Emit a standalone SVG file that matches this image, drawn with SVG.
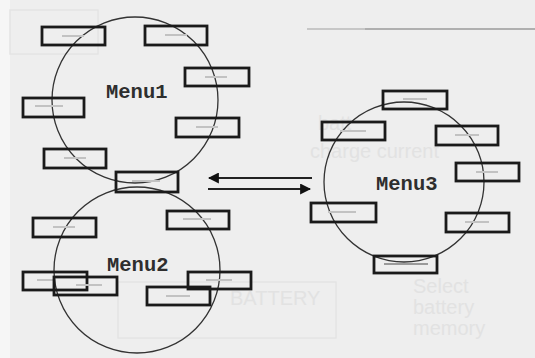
<svg xmlns="http://www.w3.org/2000/svg" width="535" height="358" viewBox="0 0 535 358">
<style>
.bg{fill:#eeeeee}
.ghost{fill:none;stroke:#e4e4e4;stroke-width:1.5}
.gtext{fill:#e2e2e2;font-family:"Liberation Sans",Arial,sans-serif;font-size:20px}
.circle{fill:none;stroke:#333333;stroke-width:1.3}
.box rect{fill:none;stroke:#1a1a1a;stroke-width:2.8}
.box .t{stroke:none;fill:#c2c2c2}
.label{font-family:"Liberation Mono","Courier New",monospace;font-weight:bold;font-size:20.5px;fill:#2e2e2e}
.conn line{stroke:#222222;stroke-width:2}
</style>
<defs>
<marker id="ah" viewBox="0 0 10 10" refX="9" refY="5" markerWidth="5.5" markerHeight="5.5" orient="auto" markerUnits="strokeWidth">
<path d="M0,0 L10,5 L0,10 z" fill="#111111"/>
</marker>
</defs>
<rect class="bg" x="0" y="0" width="535" height="358"/>
<rect x="0" y="0" width="10" height="358" fill="#f6f6f6"/>
<g id="ghost">
<rect class="ghost" x="10" y="10" width="88" height="44"/>
<rect class="ghost" x="118" y="282" width="218" height="56"/>
<line x1="307" y1="29" x2="535" y2="29" stroke="#9a9a9a" stroke-width="1.3"/>
<line x1="307" y1="29" x2="365" y2="29" stroke="#cfcfcf" stroke-width="1.3"/>
<text class="gtext" x="413" y="293">Select</text>
<text class="gtext" x="413" y="314">battery</text>
<text class="gtext" x="413" y="335">memory</text>
<text class="gtext" x="318" y="130" font-size="17">batt</text>
<text class="gtext" x="310" y="158" font-size="17">charge current</text>
<text class="gtext" x="230" y="305" font-size="16">BATTERY</text>
</g>
<g id="menu1">
<circle class="circle" cx="135" cy="100" r="83"/>
<text class="label" x="106" y="98">Menu1</text>
</g>
<g id="menu2">
<circle class="circle" cx="137" cy="270" r="83"/>
<text class="label" x="107" y="271">Menu2</text>
</g>
<g id="menu3">
<circle class="circle" cx="404" cy="182" r="80"/>
<text class="label" x="376" y="190">Menu3</text>
</g>
<g id="b1" class="box"><rect x="42" y="27" width="63" height="18"/><rect class="t" x="62" y="35" width="22" height="2"/></g>
<g id="b2" class="box"><rect x="145" y="26" width="62" height="19"/><rect class="t" x="165" y="34" width="22" height="2"/></g>
<g id="b3" class="box"><rect x="185" y="68" width="64" height="18"/><rect class="t" x="205" y="76" width="22" height="2"/></g>
<g id="b4" class="box"><rect x="23" y="98" width="61" height="19"/><rect class="t" x="35" y="105" width="28" height="2"/></g>
<g id="b5" class="box"><rect x="176" y="118" width="63" height="19"/><rect class="t" x="196" y="126" width="22" height="2"/></g>
<g id="b6" class="box"><rect x="44" y="149" width="62" height="19"/><rect class="t" x="64" y="157" width="22" height="2"/></g>
<g id="b7" class="box"><rect x="116" y="172" width="62" height="20"/><rect class="t" x="132" y="180" width="28" height="2"/></g>
<g id="b8" class="box"><rect x="33" y="218" width="63" height="19"/><rect class="t" x="53" y="226" width="22" height="2"/></g>
<g id="b9" class="box"><rect x="167" y="211" width="62" height="18"/><rect class="t" x="183" y="218" width="28" height="2"/></g>
<g id="b10" class="box"><rect x="23" y="272" width="64" height="18"/><rect class="t" x="37" y="279" width="16" height="2"/></g>
<g id="b11" class="box"><rect x="54" y="277" width="63" height="18"/><rect class="t" x="76" y="284" width="26" height="2"/></g>
<g id="b12" class="box"><rect x="188" y="272" width="63" height="17"/><rect class="t" x="206" y="279" width="26" height="2"/></g>
<g id="b13" class="box"><rect x="147" y="287" width="63" height="18"/><rect class="t" x="166" y="295" width="24" height="2"/></g>
<g id="b14" class="box"><rect x="383" y="91" width="64" height="18"/><rect class="t" x="403" y="98" width="24" height="2"/></g>
<g id="b15" class="box"><rect x="322" y="122" width="63" height="18"/><rect class="t" x="340" y="130" width="26" height="2"/></g>
<g id="b16" class="box"><rect x="436" y="126" width="62" height="19"/><rect class="t" x="455" y="134" width="24" height="2"/></g>
<g id="b17" class="box"><rect x="456" y="163" width="63" height="18"/><rect class="t" x="476" y="171" width="22" height="2"/></g>
<g id="b18" class="box"><rect x="311" y="203" width="65" height="19"/><rect class="t" x="328" y="211" width="28" height="2"/></g>
<g id="b19" class="box"><rect x="446" y="213" width="63" height="19"/><rect class="t" x="465" y="221" width="24" height="2"/></g>
<g id="b20" class="box"><rect x="374" y="256" width="63" height="17"/><rect class="t" x="384" y="263" width="44" height="2" style="fill:#9a9a9a"/></g>
<g id="connectors" class="conn">
<line x1="312" y1="178" x2="209" y2="178" marker-end="url(#ah)"/>
<line x1="208" y1="189" x2="310" y2="189" marker-end="url(#ah)"/>
</g>
</svg>
